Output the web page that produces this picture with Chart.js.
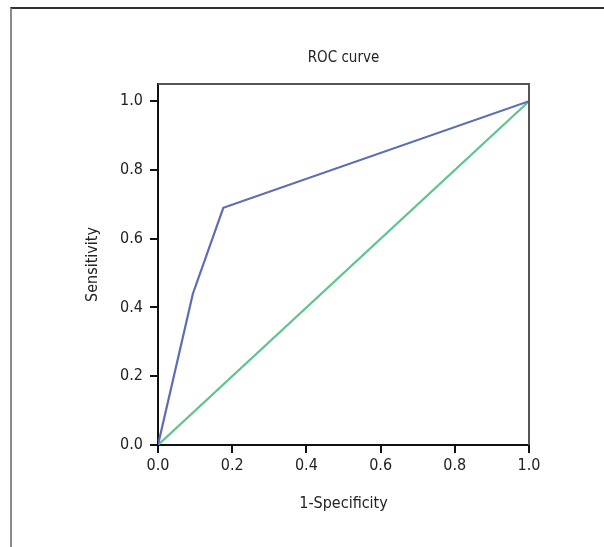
<!DOCTYPE html>
<html>
<head>
<meta charset="utf-8">
<script src="https://cdn.jsdelivr.net/npm/chart.js@4"></script>
<style>
html,body{margin:0;padding:0;background:#fff;}
#wrap{position:relative;width:604px;height:547px;overflow:hidden;}
#frame{position:absolute;left:10px;top:7px;width:700px;height:700px;border-left:2px solid #8a8a8a;border-top:2px solid #333;}
canvas{position:absolute;left:0;top:0;}
</style>
</head>
<body>
<div id="wrap"><div id="frame"></div><canvas id="c" width="604" height="547"></canvas></div>
<script>
const specificity1 = [0, 0.094, 0.176, 1.0];
const sensitivity = [0, 0.44, 0.69, 1.0];
const refX = [0, 1.0];
const refY = [0, 1.0];
const xTicks = [0, 0.2, 0.4, 0.6, 0.8, 1.0];
const yTicks = [0, 0.2, 0.4, 0.6, 0.8, 1.0];
const titleText = 'ROC curve';
const xTitle = '1-Specificity';
const yTitle = 'Sensitivity';

const FONT = "'Liberation Sans Narrow','DejaVu Sans Condensed',sans-serif";

const boxPlugin = {
  id: 'boxPlugin',
  afterDraw(chart) {
    const {ctx, chartArea} = chart;
    ctx.save();
    ctx.strokeStyle = '#555';
    ctx.lineWidth = 2;
    ctx.beginPath();
    ctx.moveTo(chartArea.left, chartArea.top);
    ctx.lineTo(chartArea.right, chartArea.top);
    ctx.lineTo(chartArea.right, chartArea.bottom);
    ctx.stroke();
    ctx.restore();
  }
};

new Chart(document.getElementById('c'), {
  type: 'scatter',
  data: {
    datasets: [
      {
        label: 'ROC',
        data: specificity1.map((x, i) => ({x, y: sensitivity[i]})),
        showLine: true,
        borderColor: '#5b6db5',
        borderWidth: 2.2,
        pointRadius: 0,
        tension: 0
      },
      {
        label: 'Reference',
        data: refX.map((x, i) => ({x, y: refY[i]})),
        showLine: true,
        borderColor: '#5ec48c',
        borderWidth: 2.2,
        pointRadius: 0,
        tension: 0
      }
    ]
  },
  options: {
    responsive: false,
    animation: false,
    layout: {padding: {left: 83, right: 0, top: 0, bottom: 30}},
    plugins: {
      legend: {display: false},
      tooltip: {enabled: false},
      title: {
        display: true,
        text: titleText,
        color: '#222',
        font: {family: FONT, size: 15, weight: 'normal'},
        padding: {top: 49, bottom: 17}
      }
    },
    scales: {
      x: {
        type: 'linear',
        min: 0,
        max: 1.0,
        afterBuildTicks(s) { s.ticks = xTicks.map(v => ({value: v})); },
        afterFit(s) { s.height = 72; },
        ticks: {
          color: '#222',
          font: {family: FONT, size: 16},
          padding: 3,
          callback: v => Number(v).toFixed(1)
        },
        grid: {drawOnChartArea: false, tickLength: 8, color: '#111', lineWidth: 2},
        border: {display: true, color: '#111', width: 2},
        title: {
          display: true,
          text: xTitle,
          color: '#222',
          font: {family: FONT, size: 16},
          padding: {top: 0, bottom: 4}
        }
      },
      y: {
        type: 'linear',
        min: 0,
        max: 1.05,
        afterBuildTicks(s) { s.ticks = yTicks.map(v => ({value: v})); },
        afterFit(s) { s.width = 75; },
        ticks: {
          color: '#222',
          font: {family: FONT, size: 16},
          padding: 7,
          callback: v => Number(v).toFixed(1)
        },
        grid: {drawOnChartArea: false, tickLength: 8, color: '#111', lineWidth: 2},
        border: {display: true, color: '#111', width: 2},
        title: {
          display: true,
          text: yTitle,
          color: '#222',
          font: {family: FONT, size: 16},
          padding: {top: 0, bottom: 0}
        }
      },
      yRight: {
        type: 'linear',
        position: 'right',
        display: true,
        afterFit(s) { s.width = 75; },
        ticks: {display: false},
        grid: {display: false},
        border: {display: false}
      }
    }
  },
  plugins: [boxPlugin]
});
</script>
</body>
</html>
